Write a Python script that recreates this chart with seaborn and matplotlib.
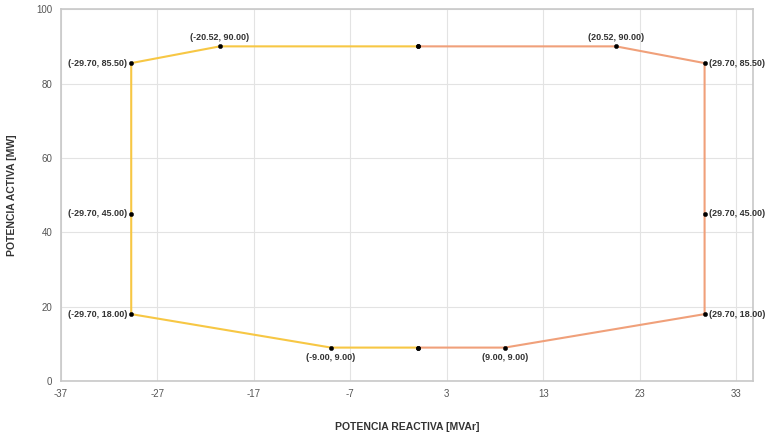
import pandas as pd
import seaborn as sns
import matplotlib.pyplot as plt

# capability curve points (Q [MVAr], P [MW])
q_left = [0.0, -20.52, -29.70, -29.70, -29.70, -9.00, 0.0]
p_left = [90.0, 90.0, 85.50, 45.0, 18.0, 9.0, 9.0]
q_right = [0.0, 20.52, 29.70, 29.70, 29.70, 9.00, 0.0]
p_right = [90.0, 90.0, 85.50, 45.0, 18.0, 9.0, 9.0]

x_ticks = [-37, -27, -17, -7, 3, 13, 23, 33]
y_ticks = [0, 20, 40, 60, 80, 100]

left_df = pd.DataFrame({"Q": q_left, "P": p_left})
right_df = pd.DataFrame({"Q": q_right, "P": p_right})

sns.set_style("white")
plt.rcParams["font.family"] = ["Liberation Sans", "DejaVu Sans"]
plt.rcParams["axes.unicode_minus"] = False

fig, ax = plt.subplots(figsize=(7.69, 4.37), dpi=100)
fig.subplots_adjust(left=0.079, right=0.979, top=0.979, bottom=0.128)

sns.lineplot(data=left_df, x="Q", y="P", sort=False, estimator=None,
             color="#F7C744", linewidth=1.5, ax=ax, zorder=2)
sns.lineplot(data=right_df, x="Q", y="P", sort=False, estimator=None,
             color="#F0A07A", linewidth=1.5, ax=ax, zorder=2)
sns.scatterplot(data=pd.concat([left_df, right_df]), x="Q", y="P",
                color="black", s=10, edgecolor=None, ax=ax, zorder=3)

# point labels
lab_kw = dict(fontsize=6.5, fontweight="bold", color="#333333")
for q, p in zip(q_left[1:-1] + q_right[1:-1], p_left[1:-1] + p_right[1:-1]):
    txt = f"({q:.2f}, {p:.2f})"
    if abs(q) > 25:
        if q < 0:
            ax.annotate(txt, (q, p), xytext=(-3, 0), textcoords="offset points",
                        ha="right", va="center", **lab_kw)
        else:
            ax.annotate(txt, (q, p), xytext=(3, 0), textcoords="offset points",
                        ha="left", va="center", **lab_kw)
    elif p > 50:
        ax.annotate(txt, (q, p), xytext=(0, 3), textcoords="offset points",
                    ha="center", va="bottom", **lab_kw)
    else:
        ax.annotate(txt, (q, p), xytext=(0, -4), textcoords="offset points",
                    ha="center", va="top", **lab_kw)

ax.set_xlim(-37, 34.7)
ax.set_ylim(0, 100)
ax.set_xticks(x_ticks)
ax.set_yticks(y_ticks)
ax.tick_params(axis="both", labelsize=7, colors="#555555", length=0, pad=6)
ax.grid(True, color="#e3e3e3", linewidth=0.8)
ax.set_axisbelow(True)
for s in ax.spines.values():
    s.set_color("#c8c8c8")
    s.set_linewidth(1.2)

ax.set_xlabel("POTENCIA REACTIVA [MVAr]", fontsize=7.5, fontweight="bold",
              color="#333333", labelpad=16)
ax.set_ylabel("POTENCIA ACTIVA [MW]", fontsize=7.5, fontweight="bold",
              color="#333333", labelpad=14)

fig.savefig("out.png", dpi=100)
